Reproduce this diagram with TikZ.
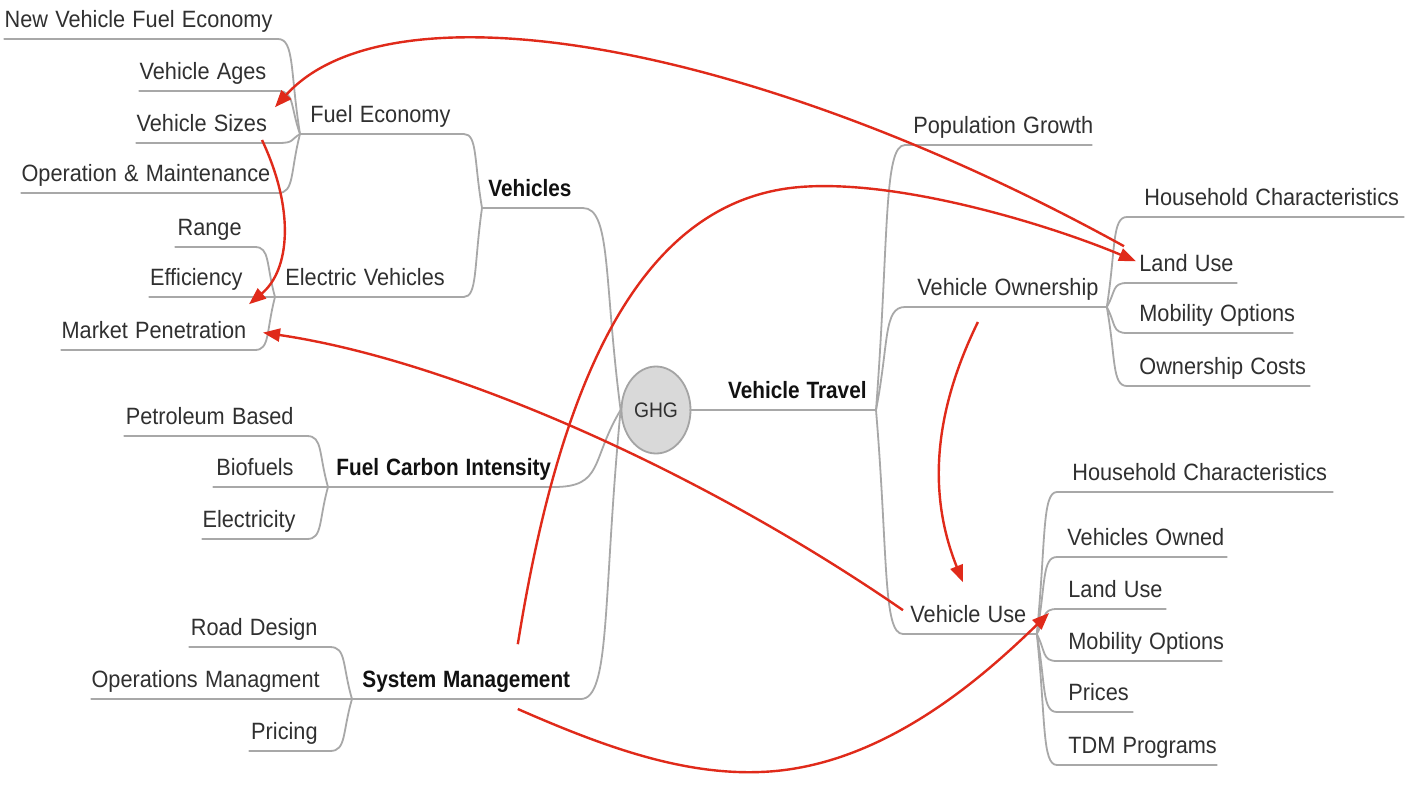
\documentclass[tikz,border=0pt]{standalone}
\usepackage{fontspec}
\setmainfont{Liberation Sans}
\usepackage{graphicx}
\usetikzlibrary{arrows.meta,shapes.geometric,calc}
\newdimen\pxu \pxu=0.5pt
\definecolor{brc}{HTML}{A8A8A8}
\definecolor{arr}{RGB}{224,42,26}
\definecolor{txt}{HTML}{303030}
\definecolor{boldc}{HTML}{111111}
\definecolor{ghgfill}{HTML}{D9D9D9}
\definecolor{ghgdraw}{HTML}{A4A4A4}
\newcommand\txr[1]{\scalebox{0.92}[1]{#1}}
\newcommand\txb[1]{\scalebox{0.88}[1]{\bfseries\color{boldc}#1}}
\newcommand\br[2]{\draw[brline] let \p1=(#1), \p2=(#2) in (\p1) .. controls ({\x1+0.45*(\x2-\x1)},{\y1+0.65*(\y2-\y1)}) and ({\x1+0.25*(\x2-\x1)},{\y2}) .. (\p2);}
\newcommand\ul[1]{\draw[brline] (#1.south west) -- (#1.south east);}
\tikzset{
  basebox/.style={inner sep=0pt, text height=17\pxu, text depth=11\pxu, font=\fontsize{11.8pt}{13pt}\selectfont, text=txt},
  lk/.style={basebox, anchor=south east, align=right},
  rk/.style={basebox, anchor=south west, align=left},
  brline/.style={draw=brc, line width=0.9pt, line cap=round},
  rarr/.style={draw=arr, line width=1.2pt, -{Triangle[length=8.5pt,width=6.5pt]}}
}
\begin{document}
\begin{tikzpicture}[x=0.5pt,y=-0.5pt]
\fill[white] (0,0) rectangle (1419,793);
\useasboundingbox (0,0) rectangle (1419,793);

% ---- left: Fuel Economy group
\node[lk, text width=273\pxu] (nvfe) at (278,39) {\noindent\txr{New Vehicle Fuel Economy}\hspace*{11\pxu}};
\node[lk, text width=138\pxu] (vage) at (278,91) {\noindent\txr{Vehicle Ages}\hspace*{12\pxu}};
\node[lk, text width=141\pxu] (vsize) at (278,143) {\noindent\txr{Vehicle Sizes}\hspace*{12\pxu}};
\node[lk, text width=256\pxu] (om) at (278,193) {\noindent\txr{Operation \& Maintenance}\hspace*{13\pxu}};
\node[rk, text width=163\pxu] (fe) at (300,134) {\noindent\hspace*{10\pxu}\txr{Fuel Economy}};

% ---- Electric vehicles group
\node[lk, text width=79\pxu] (range) at (255,247) {\noindent\txr{Range}\hspace*{13\pxu}};
\node[lk, text width=105\pxu] (eff) at (255,297) {\noindent\txr{Efficiency}\hspace*{12\pxu}};
\node[lk, text width=193\pxu] (mp) at (255,350) {\noindent\txr{Market Penetration}\hspace*{12\pxu}};
\node[rk, text width=188\pxu] (ev) at (275,297) {\noindent\hspace*{10\pxu}\txr{Electric Vehicles}};
\node[rk, text width=100\pxu] (veh) at (482,208) {\noindent\hspace*{6\pxu}\txb{Vehicles}};

% ---- Fuel carbon intensity
\node[lk, text width=182\pxu] (pb) at (307,436) {\noindent\txr{Petroleum Based}\hspace*{13\pxu}};
\node[lk, text width=93\pxu] (bio) at (307,487) {\noindent\txr{Biofuels}\hspace*{13\pxu}};
\node[lk, text width=104\pxu] (elec) at (307,539) {\noindent\txr{Electricity}\hspace*{12\pxu}};
\node[rk, text width=225\pxu] (fci) at (328,487) {\noindent\hspace*{8\pxu}\txb{Fuel Carbon Intensity}};

% ---- System management
\node[lk, text width=140\pxu] (rd) at (330,647) {\noindent\txr{Road Design}\hspace*{12\pxu}};
\node[lk, text width=238\pxu] (opm) at (330,699) {\noindent\txr{Operations Managment}\hspace*{10\pxu}};
\node[lk, text width=80\pxu] (pr) at (330,751) {\noindent\txr{Pricing}\hspace*{12\pxu}};
\node[rk, text width=228\pxu] (sm) at (352,699) {\noindent\hspace*{10\pxu}\txb{System Management}};

% ---- centre
\node[ellipse, minimum width=69\pxu, minimum height=87\pxu, fill=ghgfill, draw=ghgdraw, line width=0.9pt, inner sep=0pt, text=txt, font=\fontsize{10.5pt}{12pt}\selectfont] (ghg) at (656,410) {\txr{GHG}};
\node[lk, text width=185\pxu] (vt) at (876,410) {\noindent\txb{Vehicle Travel}\hspace*{9\pxu}};

% ---- right: vehicle travel children
\node[rk, text width=186\pxu] (pg) at (905,145) {\noindent\hspace*{8\pxu}\txr{Population Growth}};
\node[rk, text width=201\pxu] (vo) at (905,307) {\noindent\hspace*{12\pxu}\txr{Vehicle Ownership}};
\node[rk, text width=133\pxu] (vu) at (903,634) {\noindent\hspace*{7\pxu}\txr{Vehicle Use}};

% ---- vehicle ownership children
\node[rk, text width=276\pxu] (hc1) at (1127,217) {\noindent\hspace*{17\pxu}\txr{Household Characteristics}};
\node[rk, text width=109\pxu] (lu1) at (1127,283) {\noindent\hspace*{12\pxu}\txr{Land Use}};
\node[rk, text width=165\pxu] (mo1) at (1127,333) {\noindent\hspace*{12\pxu}\txr{Mobility Options}};
\node[rk, text width=182\pxu] (oc) at (1127,386) {\noindent\hspace*{12\pxu}\txr{Ownership Costs}};

% ---- vehicle use children
\node[rk, text width=275\pxu] (hc2) at (1057,492) {\noindent\hspace*{15\pxu}\txr{Household Characteristics}};
\node[rk, text width=169\pxu] (vown) at (1057,557) {\noindent\hspace*{10\pxu}\txr{Vehicles Owned}};
\node[rk, text width=108\pxu] (lu2) at (1057,609) {\noindent\hspace*{11\pxu}\txr{Land Use}};
\node[rk, text width=164\pxu] (mo2) at (1057,661) {\noindent\hspace*{11\pxu}\txr{Mobility Options}};
\node[rk, text width=75\pxu] (pri) at (1057,712) {\noindent\hspace*{11\pxu}\txr{Prices}};
\node[rk, text width=159\pxu] (tdm) at (1057,765) {\noindent\hspace*{11\pxu}\txr{TDM Programs}};

% ---- underlines
\foreach \n in {nvfe,vage,vsize,om,fe,range,eff,mp,ev,veh,pb,bio,elec,fci,rd,opm,pr,sm,vt,pg,vo,vu,hc1,lu1,mo1,oc,hc2,vown,lu2,mo2,pri,tdm}{\ul{\n}}

% ---- branch connectors
\br{fe.south west}{nvfe.south east}
\br{fe.south west}{vage.south east}
\br{fe.south west}{vsize.south east}
\br{fe.south west}{om.south east}
\br{ev.south west}{range.south east}
\br{ev.south west}{eff.south east}
\br{ev.south west}{mp.south east}
\br{veh.south west}{fe.south east}
\br{veh.south west}{ev.south east}
\br{fci.south west}{pb.south east}
\br{fci.south west}{bio.south east}
\br{fci.south west}{elec.south east}
\br{sm.south west}{rd.south east}
\br{sm.south west}{opm.south east}
\br{sm.south west}{pr.south east}
\br{ghg.west}{veh.south east}
\br{ghg.west}{fci.south east}
\br{ghg.west}{sm.south east}
\draw[brline] (ghg.east) -- (vt.south west);
\br{vt.south east}{pg.south west}
\br{vt.south east}{vo.south west}
\br{vt.south east}{vu.south west}
\br{vo.south east}{hc1.south west}
\br{vo.south east}{lu1.south west}
\br{vo.south east}{mo1.south west}
\br{vo.south east}{oc.south west}
\br{vu.south east}{hc2.south west}
\br{vu.south east}{vown.south west}
\br{vu.south east}{lu2.south west}
\br{vu.south east}{mo2.south west}
\br{vu.south east}{pri.south west}
\br{vu.south east}{tdm.south west}

% ---- red influence arrows
\draw[rarr] ([shift={(-3,-8)}]lu1.north west) .. controls (750,40) and (390,-20) .. ([shift={(-3,-7)}]vsize.north east);
\draw[rarr] ([shift={(-63,-26)}]sm.north east) .. controls (560,380) and (640,200) .. (800,187) .. controls (900,179) and (1050,225) .. ([shift={(9,7)}]lu1.north west);
\draw[rarr] ([shift={(-16,-3)}]vsize.south east) .. controls (295,210) and (290,270) .. ([shift={(-6,-17)}]mp.north east);
\draw[rarr] ([shift={(0,5)}]vu.north west) .. controls (700,470) and (450,360) .. ([shift={(8,-3)}]mp.east);
\draw[rarr] ([shift={(-28,15)}]vo.south) .. controls (930,420) and (930,500) .. ([shift={(-7,-23)}]vu.north);
\draw[rarr] ([shift={(-63,10)}]sm.south east) .. controls (600,745) and (680,775) .. (760,772) .. controls (880,768) and (980,680) .. ([shift={(-8,4)}]lu2.south west);
\end{tikzpicture}
\end{document}
